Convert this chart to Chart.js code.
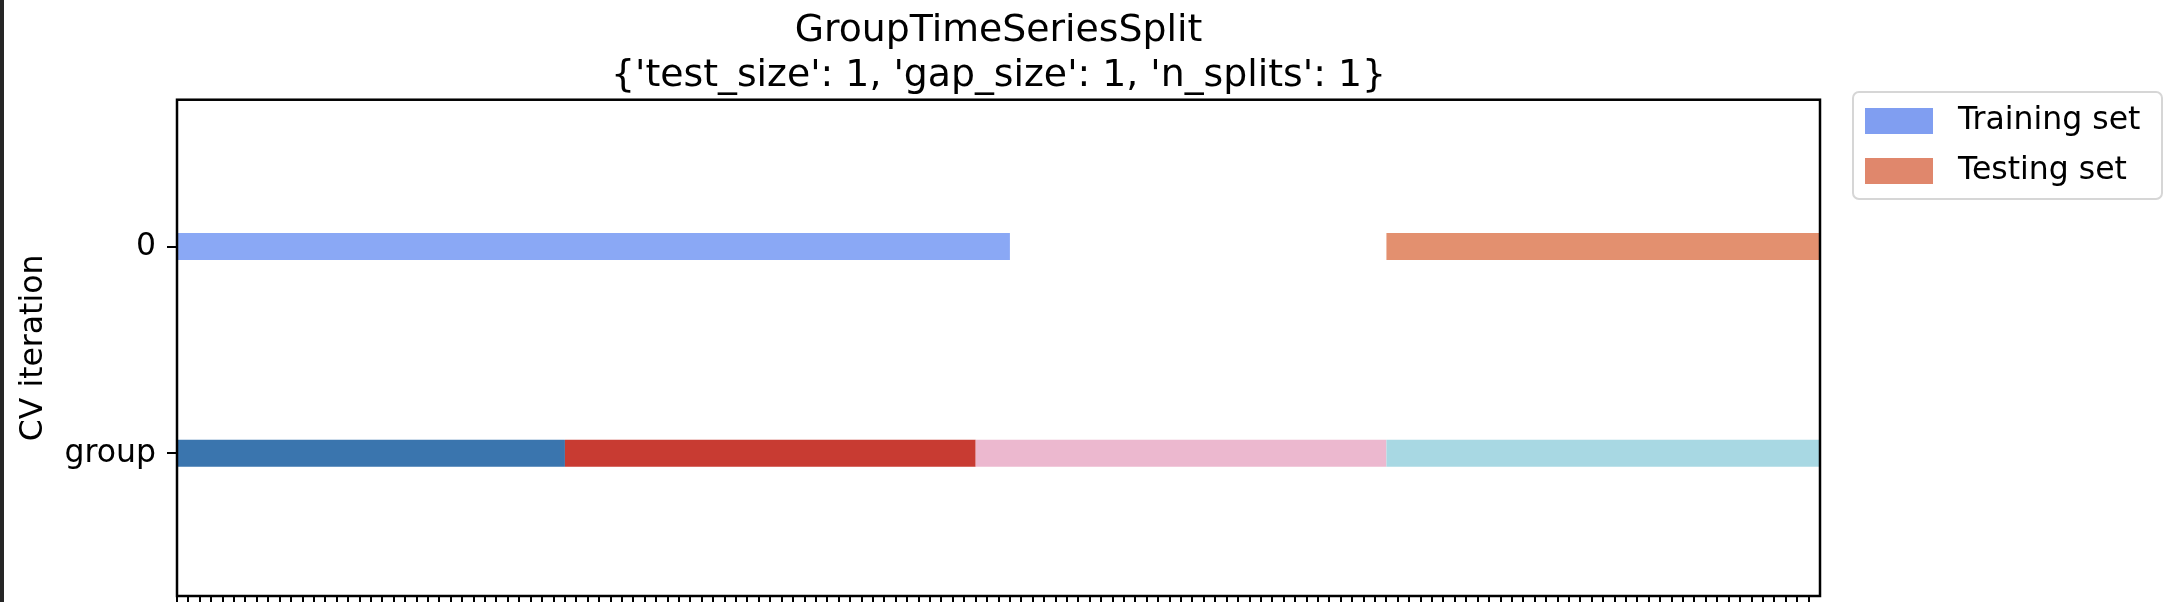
<!DOCTYPE html>
<html>
<head>
<meta charset="utf-8">
<script src="https://cdn.jsdelivr.net/npm/chart.js@4.4.1/dist/chart.umd.min.js"></script>
<style>
  html, body { margin: 0; padding: 0; background: #fff; }
</style>
</head>
<body>
<canvas id="cvChart" width="2172" height="602"></canvas>
<script>
// samples, groups and the one CV split (sample indices, first..last)
const nSamples = 144;
const groupRanges = [[0, 35], [36, 71], [72, 107], [108, 143]];
const groupColors = ['#3a75ae', '#c83b32', '#ecb8cf', '#a8d8e3'];
const trainRange = [0, 71];
const testRange = [108, 143];
const yLabels = ['0', 'group'];
const legendLabels = ['Training set', 'Testing set'];
const legendColors = ['#809ef1', '#e0876c'];
const barColors = ['#8aa8f5', '#e3906f'];
const titleLines = ['GroupTimeSeriesSplit', "{'test_size': 1, 'gap_size': 1, 'n_splits': 1}"];

const FONT = "'DejaVu Sans', sans-serif";
// the '_' scatter markers are wider than one sample, so each run sticks out a bit
const half = 2.0;
function span(r) { return [r[0] - half, r[1] + half]; }
// group runs butt against each other: the next group's markers cover the previous one
function groupSpan(r, i) {
  const next = groupRanges[i + 1];
  return [r[0] - half, next ? next[0] - half : r[1] + half];
}

const background = {
  id: 'background',
  beforeDraw(chart) {
    const ctx = chart.ctx;
    ctx.save();
    ctx.fillStyle = '#fff';
    ctx.fillRect(0, 0, chart.width, chart.height);
    ctx.fillStyle = '#262626';
    ctx.fillRect(0, 0, 4, chart.height);
    ctx.restore();
  }
};

const frame = {
  id: 'frame',
  afterDraw(chart) {
    const a = chart.chartArea, ctx = chart.ctx;
    ctx.save();
    ctx.strokeStyle = '#000';
    ctx.lineWidth = 2.5;
    ctx.strokeRect(a.left, a.top, a.right - a.left, a.bottom - a.top);
    ctx.restore();
  }
};

const legendBox = {
  id: 'legendBox',
  afterDraw(chart) {
    const ctx = chart.ctx;
    const x = chart.chartArea.right + 33, y = 92, w = 309, h = 107;
    ctx.save();
    ctx.beginPath();
    ctx.roundRect(x, y, w, h, 6);
    ctx.fillStyle = 'rgba(255,255,255,0.8)';
    ctx.fill();
    ctx.strokeStyle = '#d6d6d6';
    ctx.lineWidth = 2;
    ctx.stroke();
    ctx.font = '31.5px ' + FONT;
    ctx.textBaseline = 'middle';
    legendLabels.forEach(function(label, i) {
      const cy = y + 29 + i * 50;
      ctx.fillStyle = legendColors[i];
      ctx.fillRect(x + 12, cy - 13, 68, 26);
      ctx.fillStyle = '#000';
      ctx.fillText(label, x + 105, cy);
    });
    ctx.restore();
  }
};

new Chart(document.getElementById('cvChart'), {
  type: 'bar',
  data: {
    datasets: [
      { label: legendLabels[0], data: [{ y: 0, x: span(trainRange) }], backgroundColor: barColors[0] },
      { label: legendLabels[1], data: [{ y: 0, x: span(testRange) }], backgroundColor: barColors[1] },
      { label: 'group', data: groupRanges.map((r, i) => ({ y: 1, x: groupSpan(r, i) })), backgroundColor: groupColors }
    ]
  },
  options: {
    indexAxis: 'y',
    responsive: false,
    animation: false,
    devicePixelRatio: 1,
    datasets: { bar: { grouped: false, maxBarThickness: 27, borderWidth: 0, inflateAmount: 0 } },
    layout: { padding: { left: 0, right: 352, top: 0, bottom: 0 } },
    plugins: {
      legend: { display: false },
      tooltip: { enabled: false },
      title: {
        display: true,
        fullSize: false,
        text: titleLines,
        color: '#000',
        font: { family: FONT, size: 37.8, weight: 'normal', lineHeight: 1.2 },
        padding: { top: 8, bottom: 1 }
      }
    },
    scales: {
      x: {
        type: 'linear',
        min: 0,
        max: nSamples,
        offset: false,
        border: { display: false },
        grid: { drawOnChartArea: false, tickLength: 6, color: '#000', lineWidth: 2, offset: false },
        ticks: { display: false },
        afterBuildTicks: function(s) {
          s.ticks = Array.from({ length: nSamples }, (_, i) => ({ value: i }));
        },
        afterFit: function(s) { s.height = 6; }
      },
      y: {
        type: 'linear',
        reverse: true,
        min: -0.71,
        max: 1.69,
        offset: false,
        border: { display: false },
        grid: { drawOnChartArea: false, tickLength: 10, color: '#000', lineWidth: 2, offset: false },
        ticks: {
          color: '#000',
          padding: 11,
          font: { family: FONT, size: 31.5 },
          callback: v => yLabels[v]
        },
        afterBuildTicks: function(s) {
          s.ticks = yLabels.map((_, i) => ({ value: i }));
        },
        afterFit: function(s) {
          s.width = 177;
          s.paddingTop = 0;
          s.paddingBottom = 0;
        },
        title: {
          display: true,
          text: 'CV iteration',
          color: '#000',
          font: { family: FONT, size: 31.5 },
          padding: { top: 15, bottom: 0 }
        }
      }
    }
  },
  plugins: [background, frame, legendBox]
});
</script>
</body>
</html>
